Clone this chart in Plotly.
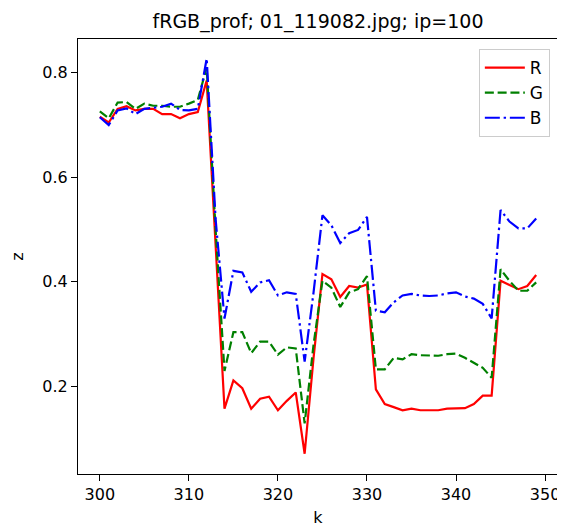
import plotly.graph_objects as go

k = list(range(300, 350))

R = [0.715, 0.704, 0.730, 0.735, 0.727, 0.730, 0.730, 0.720, 0.720, 0.712,
     0.720, 0.724, 0.784, 0.470, 0.158, 0.212, 0.197, 0.158, 0.177, 0.181,
     0.155, 0.173, 0.189, 0.072, 0.255, 0.415, 0.405, 0.371, 0.392, 0.389,
     0.395, 0.195, 0.167, 0.161, 0.155, 0.158, 0.155, 0.155, 0.155, 0.158,
     0.158, 0.159, 0.167, 0.183, 0.183, 0.402, 0.394, 0.386, 0.392, 0.413]

G = [0.725, 0.712, 0.742, 0.743, 0.730, 0.740, 0.736, 0.736, 0.734, 0.734,
     0.740, 0.747, 0.809, 0.500, 0.230, 0.304, 0.304, 0.264, 0.286, 0.286,
     0.261, 0.275, 0.273, 0.130, 0.280, 0.402, 0.389, 0.352, 0.380, 0.386,
     0.411, 0.233, 0.233, 0.255, 0.252, 0.262, 0.260, 0.259, 0.259, 0.262,
     0.263, 0.255, 0.245, 0.236, 0.217, 0.424, 0.402, 0.383, 0.383, 0.399]

B = [0.714, 0.699, 0.727, 0.731, 0.720, 0.730, 0.732, 0.734, 0.740, 0.728,
     0.727, 0.730, 0.826, 0.520, 0.330, 0.421, 0.418, 0.381, 0.399, 0.403,
     0.374, 0.380, 0.377, 0.248, 0.380, 0.527, 0.508, 0.474, 0.493, 0.499,
     0.524, 0.345, 0.342, 0.361, 0.374, 0.377, 0.374, 0.373, 0.374, 0.378,
     0.380, 0.372, 0.368, 0.358, 0.330, 0.537, 0.515, 0.502, 0.502, 0.521]

x_ticks = [300, 310, 320, 330, 340, 350]
y_ticks = [0.2, 0.4, 0.6, 0.8]

fig = go.Figure()
fig.add_trace(go.Scatter(x=k, y=R, mode="lines", name="R",
                         line=dict(color="#ff0000", width=2.2)))
fig.add_trace(go.Scatter(x=k, y=G, mode="lines", name="G",
                         line=dict(color="#008000", width=2.2, dash="9px,3.8px")))
fig.add_trace(go.Scatter(x=k, y=B, mode="lines", name="B",
                         line=dict(color="#0000ff", width=2.2,
                                   dash="15px,3.8px,2.4px,3.8px")))

axis_common = dict(showgrid=False, zeroline=False, showline=True, linecolor="black",
                   linewidth=1.2, mirror=True, ticks="outside", ticklen=6,
                   tickwidth=1.2, tickcolor="black",
                   tickfont=dict(size=16, color="black"))

fig.update_layout(
    width=557, height=520,
    margin=dict(l=70, r=5, t=31, b=47),
    paper_bgcolor="white", plot_bgcolor="white",
    font=dict(family="DejaVu Sans", color="black"),
    title=dict(text="fRGB_prof; 01_119082.jpg; ip=100", xref="paper", x=0.5,
               xanchor="center", y=0.975, yanchor="middle", font=dict(size=19)),
    xaxis=dict(range=[297.55, 351.45], tickvals=x_ticks,
               title=dict(text="k", font=dict(size=16), standoff=8), **axis_common),
    yaxis=dict(range=[0.0334, 0.8633], tickvals=y_ticks, tickformat=".1f",
               title=dict(text="z", font=dict(size=16), standoff=16), **axis_common),
    legend=dict(x=0.983, y=0.977, xanchor="right", yanchor="top",
                bgcolor="rgba(255,255,255,0.8)", bordercolor="#cccccc", borderwidth=1,
                font=dict(size=17), itemwidth=40),
    showlegend=True,
)

fig.write_html("out.html")
